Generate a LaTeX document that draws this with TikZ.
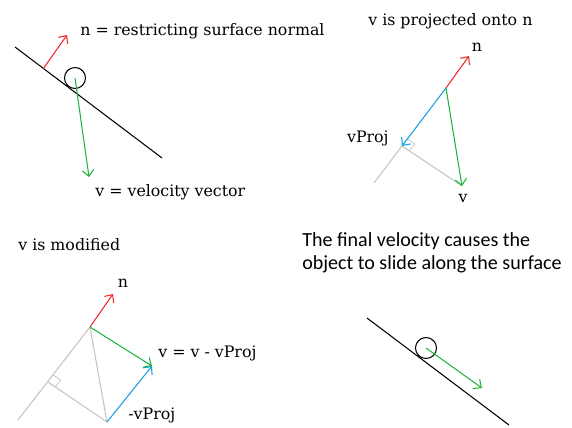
\documentclass[tikz,border=0pt]{standalone}
\usepackage{fontspec}
\setmainfont{DejaVu Serif}
\newfontfamily\capfont{Carlito}
\usetikzlibrary{calc,arrows.meta,positioning}
\definecolor{cNorm}{RGB}{240,40,40}
\definecolor{cVel}{RGB}{30,180,60}
\definecolor{cProj}{RGB}{20,160,230}
\definecolor{cAux}{RGB}{195,195,195}

\begin{document}
\begin{tikzpicture}[x=0.02cm,y=-0.02cm,
  vec/.style={line width=0.6pt,-{Straight Barb[length=3.5pt,width=6.5pt]}},
  surf/.style={line width=0.6pt,black},
  aux/.style={line width=0.6pt,cAux},
  ball/.style={draw,circle,line width=0.6pt,inner sep=0pt,minimum size=0.42cm},
  lbl/.style={inner sep=0pt,font=\fontsize{9}{11}\selectfont},
  note/.style={inner sep=0pt,align=left,font=\capfont\fontsize{11.4}{13}\selectfont}]
  \useasboundingbox (0,0) rectangle (572,427);
  % panel 1: object hits the surface
  \coordinate (s1a) at (15,47);
  \coordinate (s1b) at (162,158);
  \coordinate (n1o) at (43,69);
  \coordinate (n1t) at (67,35);
  \coordinate (v1t) at (89,177);
  \draw[surf] (s1a) -- (s1b);
  \node[ball] (b1) at (75,78) {};
  \draw[vec,cNorm] (n1o) -- (n1t);
  \draw[vec,cVel] (b1.center) -- (v1t);
  \node[lbl,anchor=west] (t1n) at (80,31) {n = restricting surface normal};
  \node[lbl,anchor=west] (t1v) at (95,192) {v = velocity vector};
  % panel 2: projection of v onto n
  \coordinate (o2) at (446,88);
  \coordinate (n2t) at (469,56);
  \coordinate (p2) at (402,146);
  \coordinate (v2t) at (462,186);
  \coordinate (g2) at (374,183);
  \draw[aux] (g2) -- (p2);
  \draw[aux] (p2) -- (v2t);
  \draw[aux,line width=0.4pt] ($(p2)!5pt!(o2)$) -- ($(p2)!5pt!(o2)+(p2)!5pt!(v2t)-(p2)$) -- ($(p2)!5pt!(v2t)$);
  \draw[vec,cNorm] (o2) -- (n2t);
  \draw[vec,cProj] (o2) -- (p2);
  \draw[vec,cVel] (o2) -- (v2t);
  \node[lbl,anchor=west] (t2) at (368,21) {v is projected onto n};
  \node[lbl] (t2n) at (477,47) {n};
  \node[lbl,anchor=east] (t2p) at (389,138) {vProj};
  \node[lbl] (t2v) at (463,198) {v};
  % panel 3: v minus its projection
  \coordinate (o3) at (90,327);
  \coordinate (n3t) at (113,294);
  \coordinate (g3) at (18,420);
  \coordinate (p3) at (48,382);
  \coordinate (v3t) at (107,422);
  \coordinate (r3) at (152,366);
  \draw[aux] (g3) -- (o3);
  \draw[aux] (o3) -- (v3t);
  \draw[aux] (v3t) -- (p3);
  \draw[aux,line width=0.4pt] ($(p3)!5pt!(o3)$) -- ($(p3)!5pt!(o3)+(p3)!5pt!(v3t)-(p3)$) -- ($(p3)!5pt!(v3t)$);
  \draw[vec,cNorm] (o3) -- (n3t);
  \draw[vec,cProj] (v3t) -- (r3);
  \draw[vec,cVel] (o3) -- (r3);
  \node[lbl,anchor=west] (t3) at (18,245) {v is modified};
  \node[lbl] (t3n) at (123,283) {n};
  \node[lbl,anchor=west] (t3r) at (158,353) {v = v - vProj};
  \node[lbl,anchor=west] (t3p) at (128,415) {-vProj};
  % panel 4: sliding along the surface
  \coordinate (s4a) at (367,318);
  \coordinate (s4b) at (509,425);
  \coordinate (v4t) at (482,388);
  \draw[surf] (s4a) -- (s4b);
  \node[ball] (b4) at (426,348) {};
  \draw[vec,cVel] (b4.center) -- (v4t);
  \node[note,anchor=west] (t4) at (302,253) {The final velocity causes the\\object to slide along the surface};
\end{tikzpicture}
\end{document}
